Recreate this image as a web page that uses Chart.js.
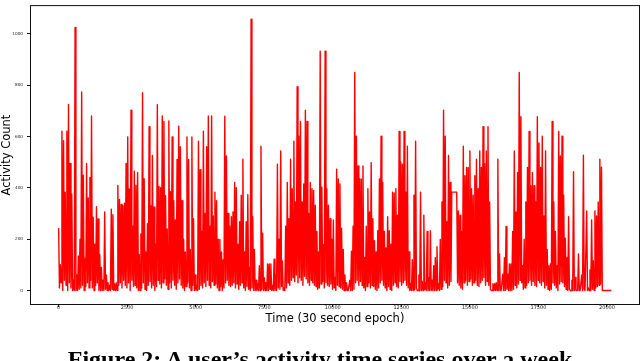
<!DOCTYPE html>
<html>
<head>
<meta charset="utf-8">
<script src="https://cdn.jsdelivr.net/npm/chart.js@4.4.1/dist/chart.umd.min.js"></script>
<style>
  html, body { margin: 0; padding: 0; background: #fff; overflow: hidden; }
  #wrap { position: relative; width: 640px; height: 361px; overflow: hidden; }
  #activityChart { position: absolute; left: 0; top: 0; }
  #caption {
    position: absolute; left: 0; top: 347px; width: 640px;
    text-align: center; white-space: nowrap; color: #000;
    font: bold 24px/24px "Liberation Serif", "Times New Roman", serif;
  }
</style>
</head>
<body>
<div id="wrap">
  <canvas id="activityChart" width="640" height="361"></canvas>
  <div id="caption">Figure 2: A user’s activity time series over a week</div>
</div>
<script>
// one reading every 60 epochs (peak), plus the low reading half-way between
const epochStep = 60

const peakCounts = [
  243, 100, 620, 583, 383, 620, 725, 495, 375, 40,
  1025, 60, 134, 200, 773, 449, 125, 495, 360, 440,
  680, 285, 180, 326, 279, 140, 90, 40, 306, 60,
  30, 20, 317, 295, 25, 30, 409, 355, 335, 330,
  340, 495, 598, 395, 702, 250, 465, 410, 460, 140,
  220, 770, 435, 150, 260, 638, 330, 526, 325, 180,
  724, 405, 400, 680, 658, 370, 240, 660, 385, 598,
  350, 275, 510, 640, 560, 350, 200, 150, 598, 510,
  160, 598, 280, 60, 20, 581, 470, 230, 620, 300,
  560, 680, 250, 680, 290, 383, 350, 200, 199, 150,
  120, 679, 524, 300, 250, 287, 306, 421, 400, 180,
  268, 371, 511, 150, 268, 373, 90, 1057, 287, 160,
  40, 26, 96, 562, 223, 50, 30, 103, 103, 103,
  20, 122, 60, 492, 200, 543, 115, 10, 250, 421,
  280, 511, 396, 581, 345, 794, 601, 658, 345, 415,
  702, 658, 300, 421, 396, 390, 332, 230, 150, 932,
  402, 179, 932, 396, 332, 280, 200, 275, 51, 472,
  434, 415, 243, 160, 60, 30, 0, 40, 153, 250,
  849, 601, 485, 434, 434, 485, 128, 250, 396, 306,
  498, 280, 194, 150, 233, 434, 601, 421, 230, 166,
  287, 233, 180, 383, 380, 396, 293, 619, 500, 492,
  619, 383, 562, 150, 26, 120, 371, 581, 0, 60,
  383, 36, 293, 30, 230, 50, 233, 40, 96, 128,
  170, 26, 199, 345, 702, 601, 268, 526, 421, 383,
  383, 383, 383, 310, 293, 230, 562, 447, 479, 479,
  543, 396, 371, 447, 511, 396, 543, 479, 638, 494,
  543, 638, 345, 0, 26, 26, 30, 511, 142, 0,
  63, 128, 249, 63, 103, 103, 230, 543, 306, 460,
  849, 677, 96, 200, 345, 479, 619, 408, 460, 408,
  345, 677, 575, 479, 601, 290, 543, 160, 96, 103,
  658, 345, 230, 96, 619, 524, 601, 371, 204, 128,
  287, 0, 40, 463, 51, 0, 142, 0, 60, 527,
  0, 310, 10, 80, 275, 116, 310, 290, 345, 511,
  480, 0, 0, 0, 0, 0, 0
]

const troughCounts = [
  10, 30, 0, 40, 20, 0, 30, 10, 0, 0,
  0, 0, 5, 10, 20, 0, 15, 30, 10, 40,
  10, 0, 20, 30, 0, 0, 0, 0, 5, 0,
  0, 0, 5, 0, 0, 0, 20, 30, 10, 40,
  20, 10, 30, 0, 40, 15, 20, 10, 0, 0,
  10, 30, 5, 0, 20, 35, 10, 20, 0, 15,
  40, 25, 10, 30, 45, 20, 5, 30, 10, 40,
  20, 5, 30, 45, 20, 10, 0, 15, 30, 10,
  0, 20, 0, 0, 0, 5, 20, 10, 30, 15,
  40, 20, 10, 35, 20, 25, 10, 0, 15, 0,
  10, 30, 40, 20, 15, 20, 30, 10, 25, 5,
  20, 30, 10, 0, 15, 5, 0, 10, 0, 0,
  0, 0, 0, 5, 0, 0, 0, 0, 5, 0,
  0, 0, 0, 10, 5, 15, 0, 0, 10, 30,
  20, 40, 50, 35, 60, 30, 50, 40, 20, 55,
  45, 30, 20, 40, 30, 20, 15, 5, 10, 25,
  35, 10, 30, 20, 15, 25, 5, 10, 0, 20,
  15, 10, 5, 0, 0, 0, 0, 0, 0, 5,
  30, 40, 20, 35, 20, 10, 0, 15, 30, 10,
  20, 15, 5, 0, 10, 30, 40, 20, 10, 0,
  15, 5, 0, 20, 30, 15, 10, 35, 20, 30,
  40, 20, 10, 0, 0, 0, 5, 10, 0, 0,
  0, 0, 5, 0, 0, 0, 0, 0, 0, 0,
  5, 0, 5, 15, 40, 30, 10, 20, 35, 383,
  383, 383, 30, 20, 10, 5, 30, 40, 20, 35,
  45, 20, 30, 40, 20, 15, 30, 40, 50, 20,
  35, 20, 5, 0, 0, 0, 0, 0, 0, 0,
  0, 0, 5, 0, 0, 0, 5, 20, 10, 25,
  40, 30, 5, 10, 20, 30, 40, 20, 35, 20,
  15, 40, 30, 20, 35, 10, 20, 5, 0, 5,
  30, 20, 10, 0, 25, 35, 30, 15, 5, 0,
  5, 0, 0, 0, 0, 0, 0, 0, 0, 5,
  0, 0, 0, 0, 5, 0, 10, 15, 20, 25,
  0, 0, 0, 0, 0, 0
]

const xTicks = [0, 2500, 5000, 7500, 10000, 12500, 15000, 17500, 20000]
const yTicks = [0, 200, 400, 600, 800, 1000]
const xRange = [-1008, 21168]
const yRange = [-52.75, 1107.75]

const points = []
peakCounts.forEach((count, i) => {
  points.push({ x: i * epochStep, y: count })
  if (i < troughCounts.length) {
    points.push({ x: i * epochStep + epochStep / 2, y: troughCounts[i] })
  }
})

// matplotlib style box round the plot area
const framePlugin = {
  id: 'frame',
  afterDatasetsDraw(chart) {
    const { ctx, chartArea } = chart
    ctx.save()
    ctx.strokeStyle = '#111'
    ctx.lineWidth = 1
    ctx.strokeRect(chartArea.left - 0.5, chartArea.top - 0.5,
      chartArea.right - chartArea.left + 1, chartArea.bottom - chartArea.top + 1)
    ctx.restore()
  }
}

const ctx = document.getElementById('activityChart').getContext('2d')
new Chart(ctx, {
  type: 'line',
  data: {
    datasets: [{
      data: points,
      borderColor: '#ff0000',
      borderWidth: 1.4,
      borderJoinStyle: 'round',
      pointRadius: 0,
      tension: 0,
      fill: false
    }]
  },
  options: {
    responsive: false,
    animation: false,
    devicePixelRatio: 1,
    layout: { padding: { left: 0, right: 1, top: 1, bottom: 0 } },
    plugins: { legend: { display: false }, tooltip: { enabled: false } },
    scales: {
      x: {
        type: 'linear',
        min: xRange[0],
        max: xRange[1],
        afterBuildTicks: scale => { scale.ticks = xTicks.map(v => ({ value: v })) },
        afterFit: scale => { scale.height = 57 },
        border: { display: false },
        grid: { drawOnChartArea: false, drawTicks: true, tickLength: 3, tickColor: '#111' },
        ticks: {
          autoSkip: false, maxRotation: 0, padding: -1.5, color: '#222',
          callback: v => String(v),
          font: { family: 'DejaVu Sans', size: 5, lineHeight: 1 }
        },
        title: {
          display: true, text: 'Time (30 second epoch)', color: '#000',
          font: { family: 'DejaVu Sans', size: 11.5 },
          padding: { top: 0, bottom: 35 }
        }
      },
      y: {
        type: 'linear',
        min: yRange[0],
        max: yRange[1],
        afterBuildTicks: scale => { scale.ticks = yTicks.map(v => ({ value: v })) },
        afterFit: scale => { scale.width = 31 },
        border: { display: false },
        grid: { drawOnChartArea: false, drawTicks: true, tickLength: 4, tickColor: '#111' },
        ticks: {
          autoSkip: false, padding: 4, color: '#222',
          callback: v => String(v),
          font: { family: 'DejaVu Sans', size: 4.2, lineHeight: 1 }
        },
        title: {
          display: true, text: 'Activity Count', color: '#000',
          font: { family: 'DejaVu Sans', size: 11.5 },
          padding: { top: 0, bottom: 0 }
        }
      }
    }
  },
  plugins: [framePlugin]
})
</script>
</body>
</html>
